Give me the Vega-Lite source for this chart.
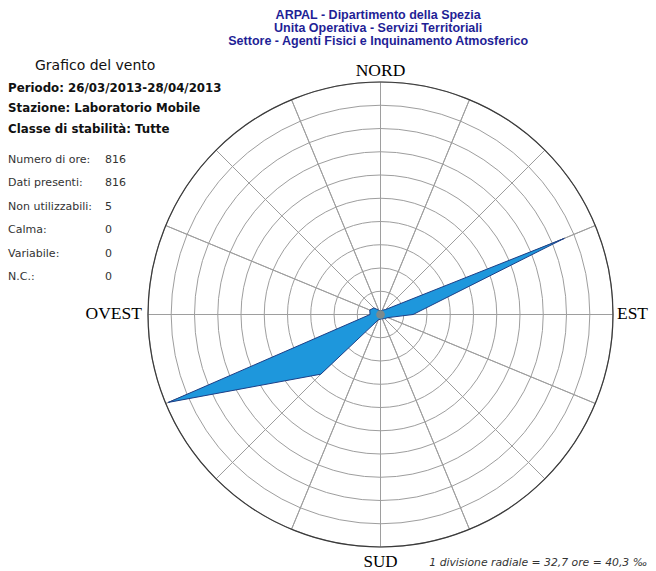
{
  "$schema": "https://vega.github.io/schema/vega-lite/v6.json",
  "width": 465,
  "height": 465,
  "autosize": {"type": "none"},
  "padding": {"left": 148, "top": 82, "right": 43, "bottom": 24},
  "background": "white",
  "config": {"view": {"stroke": null}},
  "datasets": {
    "sectors": [
      {"i": 1, "dir": "N", "v": 1}, {"i": 2, "dir": "NNE", "v": 1}, {"i": 3, "dir": "NE", "v": 1}, {"i": 4, "dir": "ENE", "v": 1},
      {"i": 5, "dir": "E", "v": 1}, {"i": 6, "dir": "ESE", "v": 1}, {"i": 7, "dir": "SE", "v": 1}, {"i": 8, "dir": "SSE", "v": 1},
      {"i": 9, "dir": "S", "v": 1}, {"i": 10, "dir": "SSW", "v": 1}, {"i": 11, "dir": "SW", "v": 1}, {"i": 12, "dir": "WSW", "v": 1},
      {"i": 13, "dir": "W", "v": 1}, {"i": 14, "dir": "WNW", "v": 1}, {"i": 15, "dir": "NW", "v": 1}, {"i": 16, "dir": "NNW", "v": 1}
    ],
    "rings": [
      {"r": 1}, {"r": 2}, {"r": 3}, {"r": 4}, {"r": 5}, {"r": 6}, {"r": 7}, {"r": 8}, {"r": 9}
    ],
    "rose": [
      {"i": 1, "dir": "N", "v": 0.15, "x": 0, "y": 0.15},
      {"i": 2, "dir": "NNE", "v": 0.2, "x": 0.077, "y": 0.185},
      {"i": 3, "dir": "NE", "v": 0.3, "x": 0.212, "y": 0.212},
      {"i": 4, "dir": "ENE", "v": 8.56, "x": 7.908, "y": 3.276},
      {"i": 5, "dir": "E", "v": 1.4, "x": 1.4, "y": 0},
      {"i": 6, "dir": "ESE", "v": 0.35, "x": 0.323, "y": -0.134},
      {"i": 7, "dir": "SE", "v": 0.25, "x": 0.177, "y": -0.177},
      {"i": 8, "dir": "SSE", "v": 0.2, "x": 0.077, "y": -0.185},
      {"i": 9, "dir": "S", "v": 0.2, "x": 0, "y": -0.2},
      {"i": 10, "dir": "SSW", "v": 0.25, "x": -0.096, "y": -0.231},
      {"i": 11, "dir": "SW", "v": 3.63, "x": -2.567, "y": -2.567},
      {"i": 12, "dir": "WSW", "v": 9.88, "x": -9.128, "y": -3.781},
      {"i": 13, "dir": "W", "v": 0.45, "x": -0.45, "y": 0},
      {"i": 14, "dir": "WNW", "v": 0.5, "x": -0.462, "y": 0.191},
      {"i": 15, "dir": "NW", "v": 0.4, "x": -0.283, "y": 0.283},
      {"i": 16, "dir": "NNW", "v": 0.2, "x": -0.077, "y": 0.185},
      {"i": 17, "dir": "N", "v": 0.15, "x": 0, "y": 0.15}
    ]
  },
  "layer": [
    {
      "data": {"name": "sectors"},
      "mark": {"type": "arc", "filled": false, "stroke": "#9e9e9e", "strokeWidth": 1},
      "encoding": {
        "theta": {"field": "v", "type": "quantitative", "stack": true},
        "order": {"field": "i", "type": "quantitative"},
        "detail": {"field": "i", "type": "nominal"},
        "radius": {"datum": 10, "type": "quantitative", "scale": {"type": "linear", "domain": [0, 10], "range": [0, 232.5], "zero": true}}
      }
    },
    {
      "data": {"name": "rings"},
      "mark": {"type": "arc", "filled": false, "stroke": "#9e9e9e", "strokeWidth": 1, "theta": 0, "theta2": 6.2832},
      "encoding": {
        "radius": {"field": "r", "type": "quantitative", "stack": null, "scale": {"type": "linear", "domain": [0, 10], "range": [0, 232.5], "zero": true}}
      }
    },
    {
      "data": {"values": [{"r": 10}]},
      "mark": {"type": "arc", "filled": false, "stroke": "#3a3a3a", "strokeWidth": 1.2, "theta": 0, "theta2": 6.2832},
      "encoding": {
        "radius": {"field": "r", "type": "quantitative", "stack": null, "scale": {"type": "linear", "domain": [0, 10], "range": [0, 232.5], "zero": true}}
      }
    },
    {
      "data": {"name": "rose"},
      "mark": {"type": "line", "fill": "#1e97dc", "stroke": "#1d3f86", "strokeWidth": 1, "interpolate": "linear"},
      "encoding": {
        "x": {"field": "x", "type": "quantitative", "axis": null, "scale": {"domain": [-10, 10], "nice": false, "zero": false}},
        "y": {"field": "y", "type": "quantitative", "axis": null, "scale": {"domain": [-10, 10], "nice": false, "zero": false}},
        "order": {"field": "i", "type": "quantitative"}
      }
    },
    {
      "data": {"values": [{}]},
      "mark": {"type": "point", "filled": true, "shape": "circle", "size": 75, "color": "#7d8a8c", "opacity": 1},
      "encoding": {
        "x": {"datum": 0, "type": "quantitative", "scale": {"domain": [-10, 10], "nice": false, "zero": false}},
        "y": {"datum": 0, "type": "quantitative", "scale": {"domain": [-10, 10], "nice": false, "zero": false}}
      }
    },
    {
      "data": {"values": [{}]},
      "mark": {"type": "text", "text": ["ARPAL - Dipartimento della Spezia", "Unita Operativa - Servizi Territoriali", "Settore - Agenti Fisici e Inquinamento Atmosferico"], "lineHeight": 13, "align": "center", "baseline": "alphabetic", "font": "Liberation Sans", "fontWeight": "bold", "fontSize": 12.5, "color": "#1f1f96"},
      "encoding": {
        "x": {"datum": -0.1, "type": "quantitative", "scale": {"domain": [-10, 10], "nice": false, "zero": false}},
        "y": {"datum": 12.71, "type": "quantitative", "scale": {"domain": [-10, 10], "nice": false, "zero": false}}
      }
    },
    {
      "data": {"values": [{}]},
      "mark": {"type": "text", "text": "Grafico del vento", "align": "left", "baseline": "alphabetic", "font": "DejaVu Sans", "fontSize": 14, "color": "#111111"},
      "encoding": {
        "x": {"datum": -14.86, "type": "quantitative", "scale": {"domain": [-10, 10], "nice": false, "zero": false}},
        "y": {"datum": 10.52, "type": "quantitative", "scale": {"domain": [-10, 10], "nice": false, "zero": false}}
      }
    },
    {
      "data": {"values": [{}]},
      "mark": {"type": "text", "text": ["Periodo: 26/03/2013-28/04/2013", "Stazione: Laboratorio Mobile", "Classe di stabilità: Tutte"], "lineHeight": 20.5, "align": "left", "baseline": "alphabetic", "font": "DejaVu Sans", "fontWeight": "bold", "fontSize": 11.8, "color": "#111111"},
      "encoding": {
        "x": {"datum": -16.02, "type": "quantitative", "scale": {"domain": [-10, 10], "nice": false, "zero": false}},
        "y": {"datum": 9.57, "type": "quantitative", "scale": {"domain": [-10, 10], "nice": false, "zero": false}}
      }
    },
    {
      "data": {"values": [{}]},
      "mark": {"type": "text", "text": ["Numero di ore:", "Dati presenti:", "Non utilizzabili:", "Calma:", "Variabile:", "N.C.:"], "lineHeight": 23.4, "align": "left", "baseline": "alphabetic", "font": "DejaVu Sans", "fontSize": 11, "color": "#333333"},
      "encoding": {
        "x": {"datum": -16.02, "type": "quantitative", "scale": {"domain": [-10, 10], "nice": false, "zero": false}},
        "y": {"datum": 6.516, "type": "quantitative", "scale": {"domain": [-10, 10], "nice": false, "zero": false}}
      }
    },
    {
      "data": {"values": [{}]},
      "mark": {"type": "text", "text": ["816", "816", "5", "0", "0", "0"], "lineHeight": 23.4, "align": "left", "baseline": "alphabetic", "font": "DejaVu Sans", "fontSize": 11, "color": "#333333"},
      "encoding": {
        "x": {"datum": -11.85, "type": "quantitative", "scale": {"domain": [-10, 10], "nice": false, "zero": false}},
        "y": {"datum": 6.516, "type": "quantitative", "scale": {"domain": [-10, 10], "nice": false, "zero": false}}
      }
    },
    {
      "data": {"values": [{}]},
      "mark": {"type": "text", "text": "NORD", "align": "center", "baseline": "alphabetic", "font": "Liberation Serif", "fontSize": 17.5, "color": "#000000"},
      "encoding": {
        "x": {"datum": 0, "type": "quantitative", "scale": {"domain": [-10, 10], "nice": false, "zero": false}},
        "y": {"datum": 10.26, "type": "quantitative", "scale": {"domain": [-10, 10], "nice": false, "zero": false}}
      }
    },
    {
      "data": {"values": [{}]},
      "mark": {"type": "text", "text": "SUD", "align": "center", "baseline": "alphabetic", "font": "Liberation Serif", "fontSize": 17, "color": "#000000"},
      "encoding": {
        "x": {"datum": 0, "type": "quantitative", "scale": {"domain": [-10, 10], "nice": false, "zero": false}},
        "y": {"datum": -10.84, "type": "quantitative", "scale": {"domain": [-10, 10], "nice": false, "zero": false}}
      }
    },
    {
      "data": {"values": [{}]},
      "mark": {"type": "text", "text": "OVEST", "align": "right", "baseline": "alphabetic", "font": "Liberation Serif", "fontSize": 17.5, "color": "#000000"},
      "encoding": {
        "x": {"datum": -10.26, "type": "quantitative", "scale": {"domain": [-10, 10], "nice": false, "zero": false}},
        "y": {"datum": -0.2, "type": "quantitative", "scale": {"domain": [-10, 10], "nice": false, "zero": false}}
      }
    },
    {
      "data": {"values": [{}]},
      "mark": {"type": "text", "text": "EST", "align": "left", "baseline": "alphabetic", "font": "Liberation Serif", "fontSize": 17.5, "color": "#000000"},
      "encoding": {
        "x": {"datum": 10.17, "type": "quantitative", "scale": {"domain": [-10, 10], "nice": false, "zero": false}},
        "y": {"datum": -0.2, "type": "quantitative", "scale": {"domain": [-10, 10], "nice": false, "zero": false}}
      }
    },
    {
      "data": {"values": [{}]},
      "mark": {"type": "text", "text": "1 divisione radiale = 32,7 ore = 40,3 ‰", "align": "left", "baseline": "alphabetic", "font": "DejaVu Sans", "fontStyle": "italic", "fontSize": 10.8, "color": "#333333"},
      "encoding": {
        "x": {"datum": 2.1, "type": "quantitative", "scale": {"domain": [-10, 10], "nice": false, "zero": false}},
        "y": {"datum": -10.8, "type": "quantitative", "scale": {"domain": [-10, 10], "nice": false, "zero": false}}
      }
    }
  ]
}
